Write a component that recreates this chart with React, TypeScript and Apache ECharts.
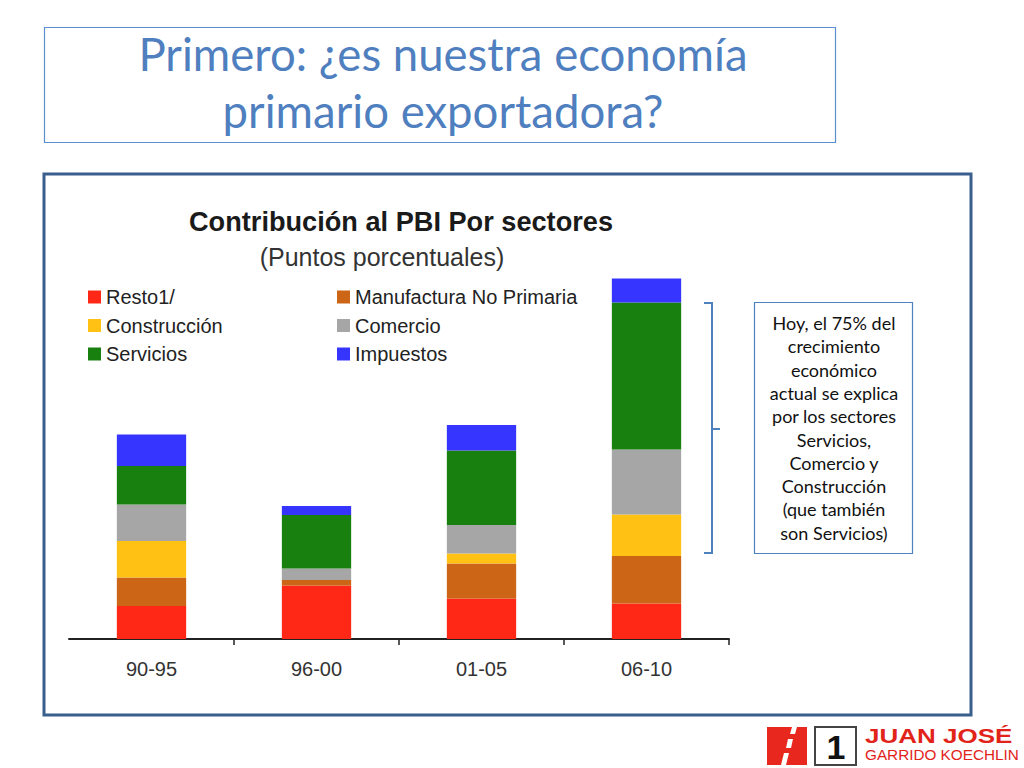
import React, { useEffect, useRef } from "react";
import * as echarts from "echarts";

const categories = ["90-95", "96-00", "01-05", "06-10"];
const resto = [0.66, 1.07, 0.81, 0.71];
const manufactura = [0.57, 0.11, 0.7, 0.95];
const construccion = [0.73, 0, 0.2, 0.83];
const comercio = [0.73, 0.23, 0.57, 1.3];
const servicios = [0.77, 1.07, 1.49, 2.94];
const impuestos = [0.63, 0.18, 0.51, 0.48];

const seriesNames = [
  "Resto1/",
  "Manufactura No Primaria",
  "Construcción",
  "Comercio",
  "Servicios",
  "Impuestos",
];
const seriesData = [resto, manufactura, construccion, comercio, servicios, impuestos];
const seriesColors = ["#FF2816", "#CD6516", "#FFC214", "#A6A6A6", "#18800E", "#3535FF"];

const slideTitle = ["Primero: ¿es nuestra economía", "primario exportadora?"];
const chartTitle = "Contribución al PBI Por sectores";
const chartSubtitle = "(Puntos porcentuales)";
const noteLines = [
  "Hoy, el 75% del",
  "crecimiento",
  "económico",
  "actual se explica",
  "por los sectores",
  "Servicios,",
  "Comercio y",
  "Construcción",
  "(que también",
  "son Servicios)",
];

function txt(x: number, y: number, text: string, o: any, scaleX = 1) {
  return {
    type: "text",
    x,
    y,
    scaleX,
    silent: true,
    style: {
      text,
      align: o.align || "center",
      textAlign: o.align || "center",
      verticalAlign: "middle",
      textVerticalAlign: "middle",
      fill: o.fill,
      fontSize: o.fontSize,
      fontFamily: o.fontFamily,
      fontWeight: o.fontWeight || "normal",
    },
  };
}

export default function App() {
  const ref = useRef<HTMLDivElement>(null);
  useEffect(() => {
    if (!ref.current) return;
    const chart = echarts.init(ref.current, undefined, { renderer: "svg" });
    const blue = "#4F81BD";
    const graphic: any[] = [
      // slide title box
      {
        type: "rect",
        shape: { x: 44.5, y: 27.5, width: 791, height: 115 },
        style: { fill: "none", stroke: "#5B8FCB", lineWidth: 1.2 },
        silent: true,
      },
      txt(443, 53, slideTitle[0], { fill: "#4F7FBF", fontSize: 46, fontFamily: "Lato" }, 0.99),
      txt(443, 110, slideTitle[1], { fill: "#4F7FBF", fontSize: 46, fontFamily: "Lato" }, 0.99),
      // chart panel
      {
        type: "rect",
        shape: { x: 44, y: 174, width: 927, height: 541 },
        style: { fill: "none", stroke: "#3A5F8C", lineWidth: 3 },
        silent: true,
      },
      txt(401, 221, chartTitle, { fill: "#1a1a1a", fontSize: 28, fontFamily: "Liberation Sans", fontWeight: "bold" }, 0.97),
      txt(382, 257, chartSubtitle, { fill: "#333", fontSize: 25, fontFamily: "Liberation Sans" }, 1.0),
      // bracket
      {
        type: "polyline",
        shape: { points: [[704, 303], [712, 303], [712, 553], [704, 553]] },
        style: { fill: "none", stroke: blue, lineWidth: 2 },
        silent: true,
      },
      {
        type: "line",
        shape: { x1: 712, y1: 429, x2: 720, y2: 429 },
        style: { stroke: blue, lineWidth: 2 },
        silent: true,
      },
      // note box
      {
        type: "rect",
        shape: { x: 754.5, y: 302.5, width: 158, height: 251 },
        style: { fill: "#fff", stroke: blue, lineWidth: 1.2 },
        silent: true,
      },
      ...noteLines.map((l, i) =>
        txt(834, 323 + i * 23.3, l, { fill: "#111", fontSize: 18, fontFamily: "Lato" })
      ),
      // logo
      {
        type: "rect",
        shape: { x: 767, y: 727, width: 40, height: 38 },
        style: { fill: "#E8281E" },
        silent: true,
      },
      {
        type: "polygon",
        shape: { points: [[781, 765], [786, 765], [789, 753], [784, 753]] },
        style: { fill: "#fff" },
        silent: true,
      },
      {
        type: "polygon",
        shape: { points: [[786, 748], [791, 748], [793, 739], [788, 739]] },
        style: { fill: "#fff" },
        silent: true,
      },
      {
        type: "polygon",
        shape: { points: [[790, 734], [795, 734], [797, 727], [792, 727]] },
        style: { fill: "#fff" },
        silent: true,
      },
      {
        type: "rect",
        shape: { x: 815, y: 727, width: 41, height: 38 },
        style: { fill: "#fff", stroke: "#444", lineWidth: 2 },
        silent: true,
      },
      txt(836, 747, "1", { fill: "#111", fontSize: 34, fontFamily: "Liberation Sans", fontWeight: "bold" }),
      txt(865, 736, "JUAN JOSÉ", { fill: "#E2231A", fontSize: 20, fontFamily: "Liberation Sans", fontWeight: "900", align: "left" }, 1.3),
      txt(865, 755, "GARRIDO KOECHLIN", { fill: "#E2231A", fontSize: 15, fontFamily: "Liberation Sans", align: "left" }, 1.02),
    ];

    const legendText = { fontSize: 20, fontFamily: "Liberation Sans", color: "#222", lineHeight: 20 };
    const legendBase = {
      orient: "vertical",
      top: 287,
      padding: 0,
      itemWidth: 13,
      itemHeight: 13,
      itemGap: 8.5,
      icon: "rect",
      textStyle: legendText,
      selectedMode: false,
    };
    const option: any = {
      animation: false,
      backgroundColor: "#fff",
      legend: [
        { ...legendBase, data: [seriesNames[0], seriesNames[2], seriesNames[4]], left: 88 },
        { ...legendBase, data: [seriesNames[1], seriesNames[3], seriesNames[5]], left: 337 },
      ],
      grid: { left: 69, top: 239, width: 660, height: 400, containLabel: false },
      xAxis: {
        type: "category",
        data: categories,
        axisLine: { lineStyle: { color: "#222", width: 2 } },
        axisTick: { show: true, length: 6, lineStyle: { color: "#222", width: 1.5 }, interval: (i: number) => i !== 0 },
        axisLabel: { fontSize: 20, fontFamily: "Liberation Sans", color: "#333", margin: 20 },
      },
      yAxis: { type: "value", min: 0, max: 8, show: false, splitLine: { show: false } },
      series: seriesNames.map((n, i) => ({
        name: n,
        type: "bar",
        stack: "total",
        barWidth: "42%",
        data: seriesData[i],
        itemStyle: { color: seriesColors[i] },
      })),
      graphic,
    };
    chart.setOption(option);
    return () => chart.dispose();
  }, []);
  return (
    <div
      ref={ref}
      style={{ position: "fixed", left: 0, top: 0, width: 1024, height: 768 }}
    />
  );
}
